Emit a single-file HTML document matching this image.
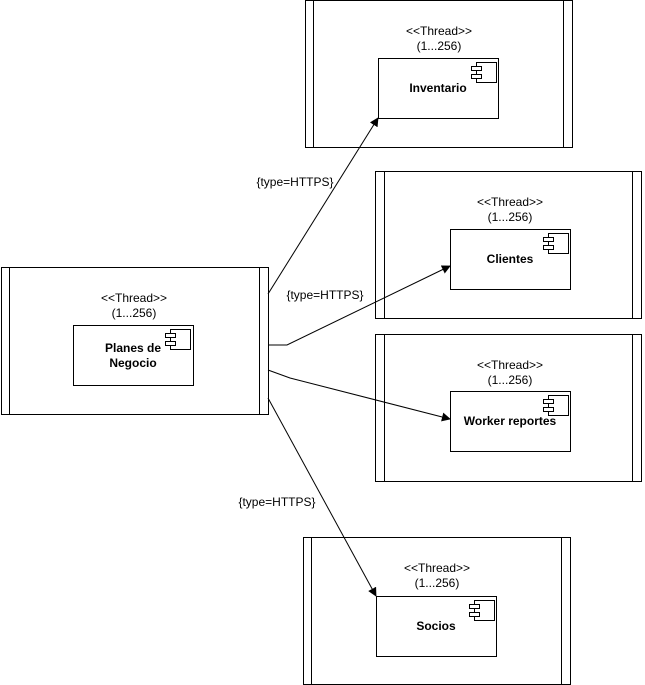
<!DOCTYPE html>
<html><head><meta charset="utf-8"><style>html,body{margin:0;padding:0;background:#fff}svg{display:block}</style></head>
<body>
<svg width="645" height="685" viewBox="0 0 645 685" xmlns="http://www.w3.org/2000/svg" font-family="Liberation Sans, Arial, sans-serif">
<defs>
<g id="icon"><rect x="0" y="0" width="20" height="20" fill="#fff" stroke="#000"/><rect x="-5" y="4" width="10" height="4" fill="#fff" stroke="#000"/><rect x="-5" y="12" width="10" height="4" fill="#fff" stroke="#000"/></g>
<marker id="ar" viewBox="0 0 10 10" refX="9" refY="5" markerWidth="9" markerHeight="9" markerUnits="userSpaceOnUse" orient="auto"><path d="M0,0 L10,5 L0,10 z" fill="#000"/></marker>
</defs>
<g stroke="#000" stroke-width="1" fill="none">
<rect x="305.5" y="0.5" width="267" height="147" fill="#fff"/><line x1="313.5" y1="0.5" x2="313.5" y2="147.5"/><line x1="563.5" y1="0.5" x2="563.5" y2="147.5"/>
<rect x="378.5" y="58.5" width="120" height="60" fill="#fff"/>
<rect x="375.5" y="171.5" width="266" height="147" fill="#fff"/><line x1="384.5" y1="171.5" x2="384.5" y2="318.5"/><line x1="632.5" y1="171.5" x2="632.5" y2="318.5"/>
<rect x="450.5" y="229.5" width="120" height="60" fill="#fff"/>
<rect x="375.5" y="334.5" width="266" height="147" fill="#fff"/><line x1="384.5" y1="334.5" x2="384.5" y2="481.5"/><line x1="632.5" y1="334.5" x2="632.5" y2="481.5"/>
<rect x="450.5" y="391.5" width="120" height="60" fill="#fff"/>
<rect x="1.5" y="267.5" width="267" height="147" fill="#fff"/><line x1="9.5" y1="267.5" x2="9.5" y2="414.5"/><line x1="259.5" y1="267.5" x2="259.5" y2="414.5"/>
<rect x="73.5" y="325.5" width="120" height="60" fill="#fff"/>
<rect x="303.5" y="537.5" width="267" height="147" fill="#fff"/><line x1="311.5" y1="537.5" x2="311.5" y2="684.5"/><line x1="561.5" y1="537.5" x2="561.5" y2="684.5"/>
<rect x="376.5" y="596.5" width="120" height="60" fill="#fff"/>
<polyline points="268,294 378,118" marker-end="url(#ar)"/>
<polyline points="268,345 287,345 450,266" marker-end="url(#ar)"/>
<polyline points="268,370 290,378 450,419" marker-end="url(#ar)"/>
<polyline points="268,398 376,596" marker-end="url(#ar)"/>
</g>
<g transform="translate(0.5,0.5)">
<use href="#icon" x="476" y="62"/>
<use href="#icon" x="548" y="233"/>
<use href="#icon" x="548" y="395"/>
<use href="#icon" x="170" y="329"/>
<use href="#icon" x="474" y="600"/>
</g>
<g font-size="12" text-anchor="middle" fill="#000">
<text x="439" y="35">&lt;&lt;Thread&gt;&gt;</text><text x="439" y="50">(1...256)</text>
<text x="510" y="206">&lt;&lt;Thread&gt;&gt;</text><text x="510" y="221">(1...256)</text>
<text x="510" y="369">&lt;&lt;Thread&gt;&gt;</text><text x="510" y="384">(1...256)</text>
<text x="134" y="302">&lt;&lt;Thread&gt;&gt;</text><text x="134" y="317">(1...256)</text>
<text x="437" y="572">&lt;&lt;Thread&gt;&gt;</text><text x="437" y="587">(1...256)</text>
<text x="295" y="186">{type=HTTPS}</text>
<text x="325" y="299">{type=HTTPS}</text>
<text x="277" y="506">{type=HTTPS}</text>
</g>
<g font-size="12" font-weight="bold" text-anchor="middle" fill="#000">
<text x="438" y="92">Inventario</text>
<text x="510" y="263">Clientes</text>
<text x="510" y="425">Worker reportes</text>
<text x="133" y="352">Planes de</text><text x="133" y="367">Negocio</text>
<text x="436" y="630">Socios</text>
</g>
</svg>
</body></html>
